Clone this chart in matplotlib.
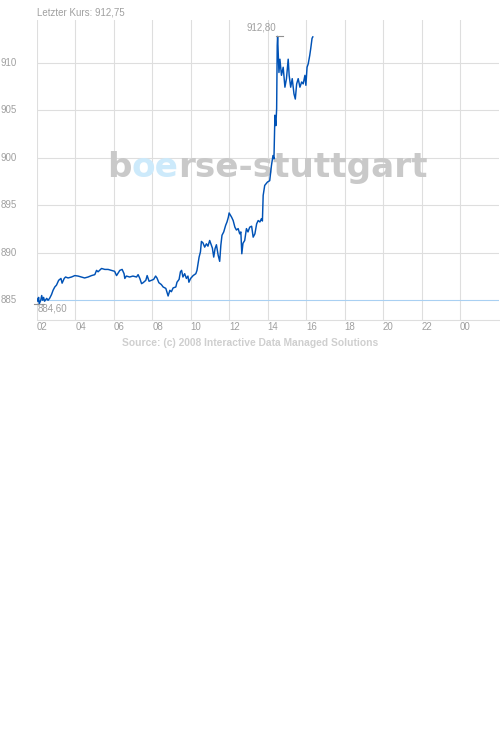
import matplotlib
matplotlib.use('Agg')
import matplotlib.pyplot as plt

# ---------------- data ----------------
title_text = "Letzter Kurs: 912,75"
source_text = "Source: (c) 2008 Interactive Data Managed Solutions"
watermark_parts = ["b", "oe", "rse-stuttgart"]

x_ticks = [2, 4, 6, 8, 10, 12, 14, 16, 18, 20, 22, 24]
x_tick_labels = ["02", "04", "06", "08", "10", "12", "14", "16", "18", "20", "22", "00"]
y_ticks = [885, 890, 895, 900, 905, 910]
y_tick_labels = ["885", "890", "895", "900", "905", "910"]
ref_level = 885

times = [
    2.00, 2.05, 2.10, 2.13, 2.21, 2.26, 2.31, 2.36, 2.41, 2.52, 2.59, 2.67,
    2.77, 2.85, 2.94, 3.03, 3.14, 3.26, 3.32, 3.43, 3.50, 3.63, 3.81, 3.98,
    4.15, 4.32, 4.49, 4.67, 4.85, 5.02, 5.11, 5.19, 5.37, 5.54, 5.71, 5.88,
    6.05, 6.15, 6.32, 6.44, 6.54, 6.58, 6.66, 6.83, 7.00, 7.19, 7.27, 7.36,
    7.45, 7.53, 7.67, 7.74, 7.84, 7.96, 8.08, 8.18, 8.25, 8.35, 8.48, 8.57,
    8.71, 8.78, 8.83, 8.92, 9.00, 9.09, 9.23, 9.29, 9.40, 9.47, 9.53, 9.60,
    9.69, 9.78, 9.86, 9.91, 10.00, 10.13, 10.27, 10.33, 10.39, 10.44, 10.51, 10.56,
    10.64, 10.73, 10.82, 10.90, 10.99, 11.08, 11.13, 11.20, 11.27, 11.34, 11.43, 11.51,
    11.57, 11.63, 11.72, 11.82, 11.89, 11.96, 12.00, 12.13, 12.21, 12.30, 12.38, 12.47,
    12.55, 12.61, 12.66, 12.72, 12.81, 12.90, 12.98, 13.07, 13.17, 13.25, 13.34, 13.43,
    13.51, 13.60, 13.68, 13.73, 13.77, 13.85, 13.99, 14.11, 14.20, 14.28, 14.33, 14.38,
    14.43, 14.47, 14.50, 14.52, 14.59, 14.64, 14.72, 14.81, 14.90, 14.98, 15.07, 15.12,
    15.20, 15.28, 15.37, 15.44, 15.51, 15.59, 15.68, 15.77, 15.85, 15.94, 15.99, 16.05,
    16.11, 16.19, 16.24, 16.31, 16.35,
]
prices = [
    885.2, 884.9, 885.3, 884.6, 885.0, 885.5, 885.0, 885.3, 884.9, 885.2, 885.0, 885.2,
    885.6, 886.05, 886.4, 886.6, 887.1, 887.3, 886.8, 887.3, 887.45, 887.35, 887.45, 887.6,
    887.55, 887.45, 887.35, 887.45, 887.6, 887.7, 888.15, 888.0, 888.35, 888.25, 888.25, 888.15,
    888.05, 887.6, 888.15, 888.25, 887.8, 887.3, 887.55, 887.45, 887.55, 887.45, 887.7, 887.3,
    886.75, 886.85, 887.1, 887.6, 887.0, 887.1, 887.2, 887.55, 887.35, 886.85, 886.65, 886.4,
    886.25, 885.8, 885.45, 886.05, 885.9, 886.3, 886.4, 886.9, 887.2, 888.0, 888.15, 887.45,
    887.8, 887.3, 887.55, 886.9, 887.3, 887.6, 887.8, 888.15, 888.95, 889.55, 890.1, 891.2,
    891.05, 890.6, 890.95, 890.7, 891.3, 890.8, 890.5, 889.55, 890.45, 890.85, 889.75, 889.1,
    890.8, 891.85, 892.2, 892.9, 893.25, 893.75, 894.2, 893.75, 893.4, 892.7, 892.4, 892.55,
    892.0, 892.2, 889.9, 891.0, 891.3, 892.55, 892.2, 892.7, 892.8, 891.65, 892.0, 893.05,
    893.4, 893.25, 893.6, 893.35, 896.05, 897.1, 897.45, 897.6, 899.2, 900.25, 899.9, 904.5,
    903.4, 905.2, 911.85, 912.8, 909.0, 910.4, 908.7, 909.55, 907.45, 908.35, 910.4, 908.7,
    907.45, 908.35, 906.75, 906.2, 907.8, 908.35, 907.45, 908.0, 907.8, 908.7, 907.65, 909.55,
    909.9, 910.8, 911.5, 912.6, 912.75,
]
max_label = "912,80"
min_label = "884,60"

# ---------------- style ----------------
W, H = 500, 735
GRID = '#dedede'
TXT = '#a0a0a0'
LINE = '#0052b6'
REF = '#a9d0f2'
WM_GRAY = '#c9c9c9'
WM_BLUE = '#cdeafb'
FONT = 'Liberation Sans'

fig = plt.figure(figsize=(W / 100, H / 100), dpi=100)
fig.patch.set_facecolor('white')
ax_left, ax_right, ax_top, ax_bottom = 36.7, 498.5, 20, 320
ax = fig.add_axes([ax_left / W, 1 - ax_bottom / H, (ax_right - ax_left) / W, (ax_bottom - ax_top) / H])
ax.set_xlim(2, 26)
ax.set_ylim(882.92, 914.53)

for s in ['top', 'right', 'left']:
    ax.spines[s].set_visible(False)
ax.spines['bottom'].set_color(GRID)
ax.spines['bottom'].set_linewidth(0.8)

ax.set_xticks(x_ticks)
ax.set_xticklabels(x_tick_labels, ha='left', fontsize=7, family=FONT, color=TXT)
ax.set_yticks(y_ticks)
ax.set_yticklabels(y_tick_labels, ha='left', va='center', fontsize=7, family=FONT, color=TXT)
ax.tick_params(axis='x', length=0, pad=1.2)
ax.tick_params(axis='y', length=0, pad=25.8)

for xv in x_ticks:
    ax.axvline(xv, color=GRID, lw=0.8, zorder=0.5)
for yv in y_ticks:
    if yv != ref_level:
        ax.axhline(yv, color=GRID, lw=0.8, zorder=0.5)
ax.axhline(ref_level, color=REF, lw=0.8, zorder=0.6)

# watermark
fig.canvas.draw()
r = fig.canvas.get_renderer()
xw = 107.0
for part, col in zip(watermark_parts, [WM_GRAY, WM_BLUE, WM_GRAY]):
    t = ax.text(xw / W, 1 - 177.0 / H, part, transform=fig.transFigure, color=col,
                fontsize=24.7, fontweight='bold', family='DejaVu Sans',
                ha='left', va='baseline', zorder=1.5)
    bb = t.get_window_extent(r)
    xw = bb.x1

# price line
ax.plot(times, prices, color=LINE, lw=1.05, zorder=3)

# max / min markers
i_max = prices.index(max(prices))
i_min = prices.index(min(prices))
tmax, pmax = times[i_max], prices[i_max]
tmin, pmin = times[i_min], prices[i_min]


def hmark(tx, py, dx0, dx1):
    x0 = ax.transData.transform((tx, py))
    p0 = ax.transData.inverted().transform((x0[0] + dx0, x0[1]))
    p1 = ax.transData.inverted().transform((x0[0] + dx1, x0[1]))
    ax.plot([p0[0], p1[0]], [py, py], color='#909090', lw=0.8, zorder=4, clip_on=False)


hmark(tmax, pmax, -1.8, 5.2)
hmark(tmin, pmin, -5.0, 5.0)

ax.annotate(max_label, xy=(tmax, pmax), xytext=(-1.8, 9), textcoords='offset pixels',
            ha='right', va='center', fontsize=7, family=FONT, color=TXT, zorder=5)
ax.annotate(min_label, xy=(tmin, pmin), xytext=(-1.2, -4.8), textcoords='offset pixels',
            ha='left', va='center', fontsize=7, family=FONT, color=TXT, zorder=5,
            annotation_clip=False)

# title & source
fig.text(37 / W, 1 - 12.7 / H, title_text, ha='left', va='center', fontsize=7,
         family=FONT, color=TXT)
fig.text(250 / W, 1 - 343.3 / H, source_text, ha='center', va='center', fontsize=7.4,
         family=FONT, fontweight='bold', color='#cfcfcf')

fig.savefig('out.png', dpi=100, facecolor='white')
